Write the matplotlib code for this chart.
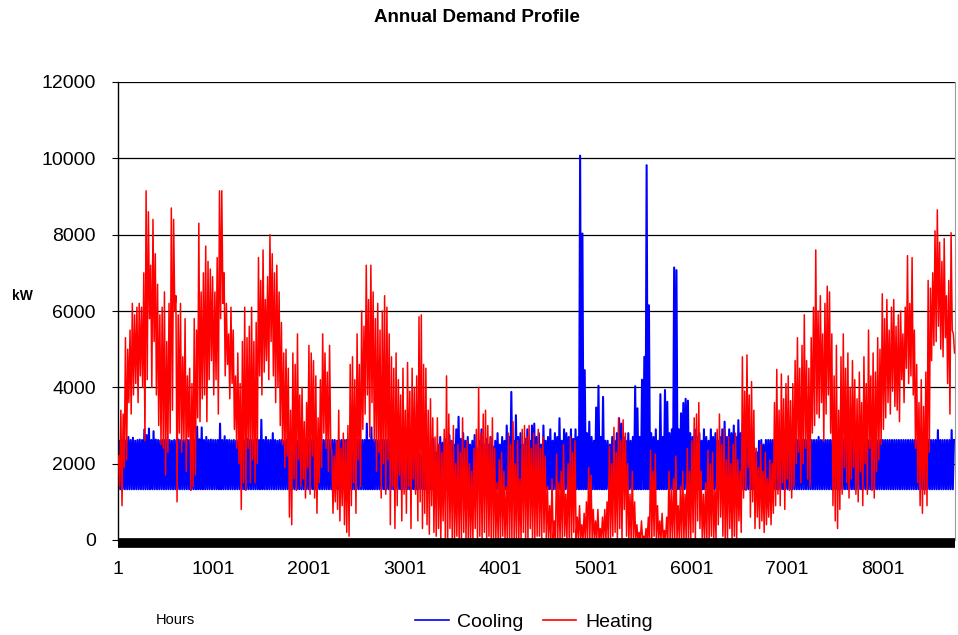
import numpy as np
import matplotlib
matplotlib.use("Agg")
from matplotlib import pyplot as plt
from matplotlib.ticker import MultipleLocator, FixedLocator

plt.rcParams['font.family'] = ['Liberation Sans', 'DejaVu Sans']

# hourly profile, one high/low pair per day (365 days)
cooling_base = 1330
cooling_peak = [
    2600, 2620, 2650, 2610, 2700, 2620, 2680, 2600, 2620, 2630,
    2620, 2900, 2750, 2920, 2620, 2850, 2630, 2620, 2610, 2620,
    2620, 2640, 2620, 2600, 2620, 2620, 2630, 2620, 2610, 2620,
    2620, 2620, 2600, 2620, 2970, 2640, 2950, 2620, 2700, 2620,
    2630, 2620, 2620, 2620, 3050, 2620, 2720, 2620, 2620, 2610,
    2620, 2600, 2620, 2640, 2620, 2620, 2650, 2620, 2620, 2620,
    2640, 2620, 3150, 2620, 2700, 2620, 2620, 2800, 2620, 2600,
    2620, 2620, 2600, 2620, 2620, 2580, 2620, 2620, 2600, 2620,
    2620, 2620, 2620, 2600, 2620, 2620, 2620, 2620, 2580, 2620,
    2620, 2620, 2620, 2620, 2620, 2600, 2620, 2620, 2620, 2620,
    2620, 3000, 2620, 2620, 2620, 2620, 2620, 2620, 3050, 2620,
    2950, 2620, 2620, 2620, 2620, 2620, 2620, 2620, 2600, 2600,
    2700, 2500, 2620, 2620, 2500, 2620, 2400, 2620, 2300, 2250,
    2200, 2250, 2200, 2300, 2250, 2200, 2250, 2650, 2300, 2500,
    2700, 2550, 2650, 2400, 2750, 2600, 2500, 2900, 3230, 2650,
    2800, 2600, 2700, 2500, 2600, 2750, 2400, 2600, 2900, 2500,
    2650, 2500, 2700, 2450, 2600, 2800, 2500, 2700, 2600, 3000,
    2700, 3880, 2600, 3270, 2700, 2800, 2500, 2650, 2900, 2600,
    3000, 3050, 2700, 2800, 2500, 3000, 2600, 2700, 2900, 2600,
    2800, 2700, 3190, 2600, 2900, 2800, 2700, 2900, 2650, 2900,
    2700, 10070, 8030, 4450, 2800, 3100, 2700, 2600, 3470, 4040,
    2700, 3750, 2600, 2600, 2500, 2700, 2600, 2800, 3190, 3050,
    2700, 2600, 2800, 2600, 2700, 4030, 3450, 2700, 4200, 4800,
    9820, 6150, 2800, 2700, 2900, 2600, 3820, 2700, 3930, 3620,
    2800, 2900, 7140, 7070, 2900, 3320, 3590, 3700, 3650, 2800,
    2700, 2900, 2700, 2800, 2600, 2900, 2700, 2600, 2900, 2700,
    2800, 2600, 2700, 2900, 3100, 2700, 2900, 2800, 3000, 2700,
    3140, 2800, 3100, 2900, 2800, 2700, 2500, 2400, 2300, 2600,
    2620, 2500, 2620, 2620, 2620, 2620, 2620, 2600, 2620, 2620,
    2620, 2620, 2620, 2620, 2620, 2640, 2620, 2620, 2620, 2620,
    2620, 2620, 2620, 2620, 2620, 2700, 2620, 2620, 2620, 2620,
    2620, 2620, 2620, 2620, 2620, 2620, 2620, 2600, 2620, 2620,
    2620, 2620, 2620, 2620, 2620, 2620, 2620, 2620, 2620, 2620,
    2620, 2620, 2620, 2620, 2620, 2620, 2620, 2620, 2620, 2620,
    2620, 2620, 2620, 2620, 2620, 2620, 2620, 2620, 2620, 2620,
    2620, 2620, 2620, 2620, 2620, 2620, 2620, 2880, 2620, 2620,
    2620, 2620, 2620, 2880, 2620,
]

heating_high = [
    2200, 3400, 3300, 5300, 5000, 5500, 6200, 5900, 6100, 6200,
    6100, 7000, 9150, 8600, 7200, 8400, 7500, 6700, 5900, 6100,
    6500, 5200, 6200, 8700, 8400, 6400, 5900, 6200, 4800, 5800,
    4300, 4500, 4100, 5800, 5500, 8300, 6500, 7000, 7700, 7300,
    7100, 6900, 6500, 7400, 9150, 9150, 7000, 6200, 5400, 6100,
    5500, 4300, 4900, 4100, 5200, 6100, 5300, 5600, 6100, 5200,
    5700, 7400, 6800, 7600, 6300, 6900, 8000, 7500, 7000, 7200,
    6500, 5700, 4900, 5000, 4500, 3400, 4900, 4600, 5400, 3800,
    4000, 3100, 3600, 5100, 4900, 4700, 4300, 3200, 4200, 5400,
    4900, 4400, 5100, 2300, 2200, 2600, 3400, 2400, 2800, 2600,
    3000, 4600, 4800, 4200, 5400, 4600, 6000, 5600, 7200, 6300,
    7200, 6500, 5800, 6200, 5500, 6000, 6400, 6100, 5400, 4800,
    4500, 4900, 4200, 3800, 4500, 3400, 4650, 3900, 4500, 4000,
    4300, 5850, 5900, 4600, 4500, 3400, 3700, 3200, 2700, 3200,
    2500, 2300, 2900, 4300, 3300, 2600, 3000, 2000, 2500, 2300,
    3200, 2400, 2600, 2000, 1800, 2400, 2900, 4000, 2800, 3300,
    3400, 3000, 2700, 3200, 2400, 1500, 2100, 2300, 1800, 1400,
    2800, 2500, 3100, 2000, 2600, 1600, 2900, 3000, 2700, 3000,
    2400, 2800, 2500, 2900, 2400, 2700, 2200, 1400, 900, 1600,
    500, 2250, 1500, 1800, 2500, 1200, 2000, 2700, 2300, 2600,
    600, 900, 400, 700, 1000, 1900, 1700, 800, 500, 800,
    300, 600, 800, 1000, 2450, 2000, 2950, 2300, 3200, 2600,
    3150, 2800, 2000, 1200, 1800, 1000, 400, 200, 500, 100,
    300, 600, 2350, 1800, 2250, 900, 500, 700, 250, 600,
    1800, 1300, 1600, 2200, 900, 1400, 1800, 1200, 2400, 1800,
    2600, 3200, 3300, 3600, 1800, 1200, 1500, 2350, 2000, 2300,
    1300, 2900, 3300, 2500, 2900, 2100, 2700, 2000, 2500, 2800,
    2100, 1800, 4800, 3900, 4850, 3800, 4150, 3400, 2400, 1900,
    2500, 1800, 2300, 1600, 2100, 2000, 3600, 4470, 3400, 4350,
    3700, 4100, 4300, 3650, 4100, 4700, 5300, 4500, 5100, 5900,
    4700, 4500, 5300, 6100, 7600, 6000, 6400, 5400, 6200, 6650,
    6500, 5400, 4300, 5100, 3400, 4800, 5400, 4500, 4900, 4000,
    4700, 4200, 3700, 4400, 3600, 4800, 4100, 5500, 4300, 4900,
    4400, 5300, 5000, 6450, 5800, 6300, 5500, 6100, 6300, 5600,
    5900, 6000, 5400, 6100, 7450, 6200, 7400, 5500, 4600, 3600,
    4200, 3500, 4400, 6800, 6600, 7000, 8100, 8650, 7800, 7300,
    7900, 6400, 6800, 8050, 5400,
]

heating_low = [
    1400, 900, 1900, 2100, 3600, 3300, 3800, 4100, 3600, 4300,
    4000, 2600, 4200, 5800, 4000, 5200, 3800, 3000, 2500, 2400,
    1700, 2300, 2800, 3400, 6000, 1000, 2800, 2300, 2600, 1800,
    2700, 1300, 1400, 1700, 3200, 3100, 3700, 3800, 3100, 4200,
    4700, 3800, 4200, 3300, 5800, 6200, 4300, 4600, 3700, 4100,
    2900, 2400, 2000, 800, 1500, 1300, 2400, 1500, 2100, 1500,
    2000, 4300, 3800, 4400, 4700, 4200, 5200, 4300, 3600, 4000,
    3000, 2500, 1900, 2200, 600, 400, 1600, 1300, 2100, 1400,
    1600, 1100, 1900, 1200, 2200, 1100, 700, 1500, 1900, 2800,
    2400, 1800, 2500, 700, 1000, 800, 500, 900, 400, 200,
    100, 900, 1500, 700, 2100, 1400, 2900, 3300, 3800, 2700,
    3600, 2600, 1800, 2300, 1100, 2000, 1200, 2100, 400, 1400,
    300, 900, 1700, 500, 1200, 700, 1400, 300, 1600, 1200,
    500, 1000, 300, 700, 400, 150, 900, 200, 100, 300,
    0, 500, 0, 0, 300, 0, 0, 100, 0, 0,
    200, 0, 0, 0, 0, 300, 0, 100, 0, 200,
    0, 100, 0, 0, 0, 0, 0, 100, 0, 0,
    0, 0, 0, 0, 0, 0, 200, 0, 0, 300,
    0, 0, 100, 100, 0, 200, 0, 0, 0, 0,
    0, 0, 0, 0, 100, 0, 0, 0, 200, 0,
    0, 0, 0, 0, 0, 0, 0, 0, 0, 0,
    0, 0, 0, 0, 0, 100, 200, 0, 300, 0,
    800, 100, 0, 0, 0, 0, 0, 0, 0, 0,
    0, 0, 0, 100, 0, 0, 0, 0, 0, 0,
    0, 0, 0, 0, 0, 0, 0, 0, 0, 0,
    200, 0, 500, 300, 0, 0, 0, 0, 100, 0,
    0, 400, 600, 100, 0, 0, 300, 0, 100, 0,
    500, 200, 1100, 1300, 1900, 600, 1000, 300, 600, 300,
    500, 200, 400, 600, 400, 700, 900, 1200, 900, 1500,
    800, 1600, 1300, 1100, 1400, 2000, 2300, 1500, 2000, 2400,
    1600, 1400, 2800, 3000, 3300, 3200, 3600, 2600, 3300, 3800,
    2800, 900, 500, 300, 800, 1200, 1900, 1500, 1100, 1600,
    1900, 1200, 1000, 1800, 900, 2000, 1200, 2400, 1300, 1100,
    1800, 2100, 2500, 2900, 3200, 3600, 3300, 3900, 3500, 3400,
    3100, 4200, 3600, 4500, 4100, 4300, 3800, 2400, 1500, 900,
    700, 1200, 900, 2300, 4700, 5100, 5200, 5600, 5000, 4800,
    5300, 4100, 3300, 5500, 4900,
]

hour_labels = ["1", "1001", "2001", "3001", "4001", "5001", "6001", "7001", "8001"]


def day_series(first, second, h1, h2):
    d = np.arange(len(first))
    x = np.column_stack([d * 24 + h1, d * 24 + h2]).ravel()
    y = np.column_stack([first, second]).ravel()
    return x, y


cx, cy = day_series(np.full(len(cooling_peak), cooling_base), cooling_peak, 1, 13)
hx, hy = day_series(heating_high, heating_low, 7, 19)

fig = plt.figure(figsize=(9.58, 6.35), dpi=100)
ax = fig.add_axes([118 / 958, 1 - 540 / 635, (955 - 118) / 958, (540 - 82) / 635])

ax.plot(cx, cy, color="#0000ff", lw=1.5, label="Cooling", zorder=2)
ax.plot(hx, hy, color="#ff0000", lw=1.1, label="Heating", zorder=3)

ax.set_xlim(1, 8760)
ax.set_ylim(0, 12000)
ax.yaxis.set_major_locator(MultipleLocator(2000))
ax.xaxis.set_major_locator(FixedLocator([int(s) for s in hour_labels]))
ax.set_xticklabels(hour_labels)
ax.grid(axis="y", color="black", lw=0.9)
ax.set_axisbelow(True)

ax.spines["top"].set_visible(False)
ax.spines["right"].set_color("#9a9a9a")
ax.spines["left"].set_linewidth(1.0)
ax.spines["bottom"].set_linewidth(7)
ax.spines["bottom"].set_capstyle("butt")
ax.spines["bottom"].set_position(("outward", 2))
ax.spines["bottom"].set_zorder(4)

ax.tick_params(axis="y", labelsize=14, length=4, pad=12)
ax.tick_params(axis="x", labelsize=14, length=0, pad=13)

fig.text(0.498, 1 - 18 / 635, "Annual Demand Profile", ha="center", va="center",
         fontsize=13.5, fontweight="bold")
fig.text(22 / 958, 1 - 296 / 635, "kW", ha="center", va="center",
         fontsize=10, fontweight="bold")
fig.text(175 / 958, 1 - 620 / 635, "Hours", ha="center", va="center", fontsize=10.5)

leg = fig.legend(loc="center", bbox_to_anchor=(534 / 958, 1 - 622 / 635), ncols=2,
                 frameon=False, fontsize=14, handlelength=1.7, handletextpad=0.45,
                 columnspacing=1.0)
for line in leg.get_lines():
    line.set_linewidth(1.2)

plt.savefig("out.png", dpi=100)
